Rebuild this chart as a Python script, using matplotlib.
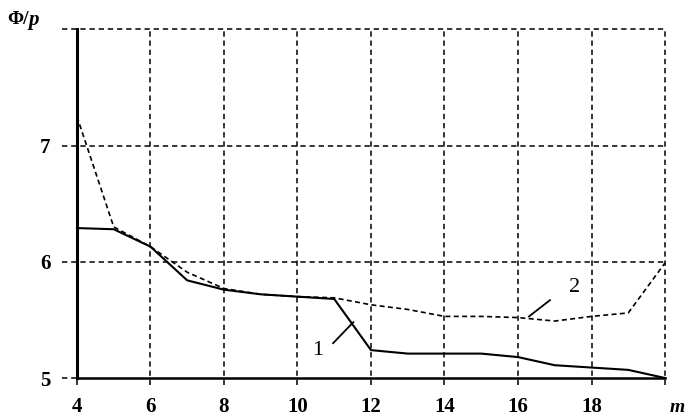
import matplotlib
matplotlib.use("Agg")
import matplotlib.pyplot as plt

# data
m_vals = [4, 5, 6, 7, 8, 9, 10, 11, 12, 13, 14, 15, 16, 17, 18, 19, 20]
curve1 = [6.29, 6.28, 6.13, 5.84, 5.76, 5.72, 5.70, 5.68, 5.24, 5.21, 5.21,
          5.21, 5.18, 5.11, 5.09, 5.07, 5.00]
curve2 = [7.25, 6.30, 6.13, 5.91, 5.77, 5.72, 5.70, 5.69, 5.63, 5.59, 5.53,
          5.53, 5.52, 5.49, 5.53, 5.56, 5.99]

x_ticks = [4, 6, 8, 10, 12, 14, 16, 18]
y_ticks = [5, 6, 7]
grid_x = [6, 8, 10, 12, 14, 16, 18, 20]
grid_y = [6, 7, 8]

# curve labels with their leader lines
label1 = ("1", 10.56, 5.24)
leader1 = ([10.97, 11.52], [5.30, 5.48])
label2 = ("2", 17.55, 5.78)
leader2 = ([16.30, 16.87], [5.53, 5.67])

serif = "Liberation Serif"

fig = plt.figure(figsize=(6.86, 4.17), dpi=100)
ax = fig.add_axes([0.1122, 0.0935, 0.8572, 0.8362])
ax.set_xlim(4, 20)
ax.set_ylim(5, 8)

grid_style = dict(color="black", lw=1.1, ls=(0, (3.5, 2.5)), clip_on=False, zorder=1)
for gx in grid_x:
    ax.axvline(gx, ymin=-0.02, ymax=1.0, **grid_style)
for gy in grid_y:
    ax.axhline(gy, xmin=-0.025, xmax=1.0, **grid_style)
ax.axhline(5, xmin=-0.025, xmax=0.0, **grid_style)
ax.axvline(4, ymin=-0.02, ymax=0.0, **grid_style)

ax.plot(m_vals, curve1, color="black", lw=1.5, zorder=3, clip_on=False)
ax.plot(m_vals, curve2, color="black", lw=1.2, ls=(0, (3, 2)), zorder=3, clip_on=False)

for (txt, tx, ty), (lx, ly) in [(label1, leader1), (label2, leader2)]:
    ax.plot(lx, ly, color="black", lw=1.3, zorder=3)
    ax.text(tx, ty, txt, fontsize=16, family=serif, ha="center", va="center")

for side in ["top", "right"]:
    ax.spines[side].set_visible(False)
ax.spines["left"].set_linewidth(2.2)
ax.spines["bottom"].set_linewidth(1.8)

ax.set_xticks(x_ticks)
ax.set_yticks(y_ticks)
ax.set_xticklabels([str(v) for v in x_ticks], fontsize=15, fontweight="bold", family=serif)
ax.set_yticklabels([str(v) for v in y_ticks], fontsize=15, fontweight="bold", family=serif)
ax.tick_params(axis="x", length=0, pad=14)
ax.tick_params(axis="y", length=0, pad=19)

fig.text(7 / 686, 1 - 20 / 417, "Φ/", fontsize=14, fontweight="bold", family=serif,
         ha="left", va="center")
fig.text(28 / 686, 1 - 20 / 417, "p", fontsize=15, fontweight="bold", fontstyle="italic",
         family=serif, ha="left", va="center")
fig.text(670 / 686, 1 - 407 / 417, "m", fontsize=14, fontweight="bold", fontstyle="italic",
         family=serif, ha="left", va="center")

fig.savefig("out.png", dpi=100)
